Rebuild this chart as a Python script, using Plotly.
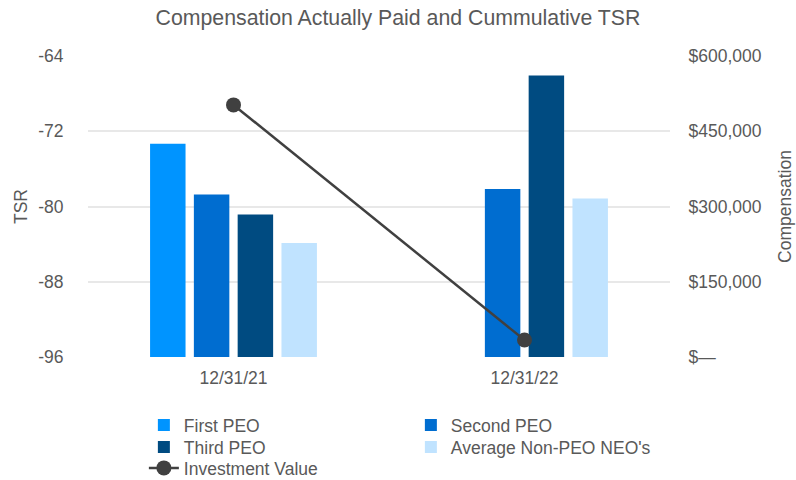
import plotly.graph_objects as go

categories = ["12/31/21", "12/31/22"]
first_peo = [425000, None]
second_peo = [324000, 335000]
third_peo = [284000, 561000]
avg_non_peo = [227000, 316000]
tsr = [-69.2, -94.2]

tsr_ticks = [-96, -88, -80, -72, -64]
tsr_labels = ["-96", "-88", "-80", "-72", "-64"]
comp_ticks = [0, 150000, 300000, 450000, 600000]
comp_labels = ["$—", "$150,000", "$300,000", "$450,000", "$600,000"]

FONT = "Liberation Sans, Arial, sans-serif"
GRAY = "#595959"
FS = 17.5

fig = go.Figure()
for name, vals, col, lg in [
    ("First PEO", first_peo, "#0094ff", "legend"),
    ("Second PEO", second_peo, "#006dd0", "legend"),
    ("Third PEO", third_peo, "#004b81", "legend2"),
    ("Average Non-PEO NEO's", avg_non_peo, "#c0e3ff", "legend2"),
]:
    fig.add_trace(go.Bar(x=categories, y=vals, name=name, marker_color=col,
                         marker_line_width=0, yaxis="y", legend=lg))

fig.add_trace(go.Scatter(x=categories, y=tsr, name="Investment Value", mode="lines+markers",
                         line=dict(color="#404040", width=2.5),
                         marker=dict(color="#404040", size=15), yaxis="y2", legend="legend3"))

def leg(ypix):
    return dict(orientation="h", x=0.096, xanchor="left", y=(357 - ypix) / 301, yanchor="middle",
                entrywidth=222, entrywidthmode="pixels", traceorder="normal",
                font=dict(size=FS, color=GRAY), bgcolor="rgba(0,0,0,0)")

fig.update_layout(
    width=796, height=480,
    margin=dict(l=88, r=126, t=56, b=123, autoexpand=False),
    paper_bgcolor="white", plot_bgcolor="white",
    font=dict(family=FONT, color=GRAY, size=FS),
    title=dict(text="Compensation Actually Paid and Cummulative TSR", x=0.5, xref="container",
               xanchor="center", yref="container", y=1 - 18 / 480, yanchor="middle",
               font=dict(size=21.3, color=GRAY)),
    barmode="group", bargap=0.398, bargroupgap=0.19,
    showlegend=True,
    legend=leg(425), legend2=leg(447), legend3=leg(468),
    xaxis=dict(type="category", showgrid=False, showline=False, zeroline=False,
               ticks="outside", ticklen=5, tickcolor="rgba(0,0,0,0)", automargin=False,
               tickfont=dict(size=FS, color=GRAY)),
    yaxis=dict(title=dict(text="Compensation", font=dict(size=FS, color=GRAY), standoff=17),
               side="right", range=[0, 600000], tickvals=comp_ticks, ticktext=comp_labels,
               showgrid=True, gridcolor="#e8e8e8", gridwidth=1.5, zeroline=False,
               ticks="outside", ticklen=14, tickcolor="rgba(0,0,0,0)", automargin=False,
               tickfont=dict(size=FS, color=GRAY)),
    yaxis2=dict(title=dict(text="TSR", font=dict(size=FS, color=GRAY), standoff=6),
                overlaying="y", side="left", range=[-96, -64], tickvals=tsr_ticks,
                ticktext=tsr_labels, showgrid=False, zeroline=False, ticks="outside",
                ticklen=20, tickcolor="rgba(0,0,0,0)", automargin=False,
                tickfont=dict(size=FS, color=GRAY)),
)

fig.write_html("out.html", config={"displayModeBar": False},
               post_script="document.body.style.margin='0';")
